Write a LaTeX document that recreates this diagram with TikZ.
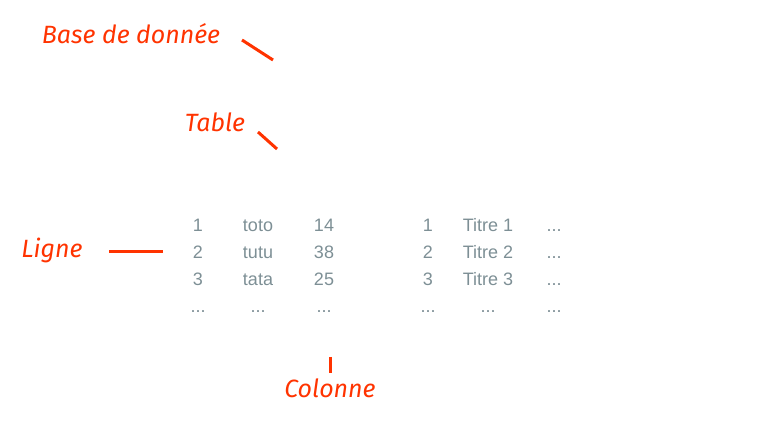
\documentclass[tikz,border=0pt]{standalone}
\usepackage{fontspec}
\setmainfont{Liberation Sans}
\newfontfamily\handfont{Fira Sans}[ItalicFont={Fira Sans Italic}]
\definecolor{lbl}{HTML}{FF3300}
\definecolor{cell}{HTML}{7D8F95}
\begin{document}
\begin{tikzpicture}[x=1pt,y=-1pt,
  lab/.style={text=lbl,font=\handfont\itshape\fontsize{25}{28}\selectfont,inner sep=0pt,anchor=base},
  cellt/.style={text=cell,font=\fontsize{18}{21}\selectfont,inner sep=0pt,anchor=base},
  tick/.style={draw=lbl,line width=3pt}]
\useasboundingbox (0,0) rectangle (758,446);
% labels
\node[lab] (base) at (131,44) {Base de donnée};
\node[lab] (table) at (215,132) {Table};
\node[lab] (ligne) at (52,258) {Ligne};
\node[lab] (colonne) at (330,398) {Colonne};
% ticks
\coordinate (b1) at (242,40); \coordinate (b2) at (273,60);
\coordinate (t1) at (258,132); \coordinate (t2) at (277,149);
\coordinate (l1) at (109,252); \coordinate (l2) at (163,252);
\coordinate (c1) at (330,357); \coordinate (c2) at (330,373);
\draw[tick] (b1) -- (b2);
\draw[tick] (t1) -- (t2);
\draw[tick] (l1) -- (l2);
\draw[tick] (c1) -- (c2);
% table 1
\node[cellt] (a11) at (198,232) {1};
\node[cellt] (a12) at (258,232) {toto};
\node[cellt] (a13) at (324,232) {14};
\node[cellt] (a21) at (198,259) {2};
\node[cellt] (a22) at (258,259) {tutu};
\node[cellt] (a23) at (324,259) {38};
\node[cellt] (a31) at (198,286) {3};
\node[cellt] (a32) at (258,286) {tata};
\node[cellt] (a33) at (324,286) {25};
\node[cellt] (a41) at (198,313) {...};
\node[cellt] (a42) at (258,313) {...};
\node[cellt] (a43) at (324,313) {...};
% table 2
\node[cellt] (b11) at (428,232) {1};
\node[cellt] (b12) at (488,232) {Titre 1};
\node[cellt] (b13) at (554,232) {...};
\node[cellt] (b21) at (428,259) {2};
\node[cellt] (b22) at (488,259) {Titre 2};
\node[cellt] (b23) at (554,259) {...};
\node[cellt] (b31) at (428,286) {3};
\node[cellt] (b32) at (488,286) {Titre 3};
\node[cellt] (b33) at (554,286) {...};
\node[cellt] (b41) at (428,313) {...};
\node[cellt] (b42) at (488,313) {...};
\node[cellt] (b43) at (554,313) {...};
\end{tikzpicture}
\end{document}
